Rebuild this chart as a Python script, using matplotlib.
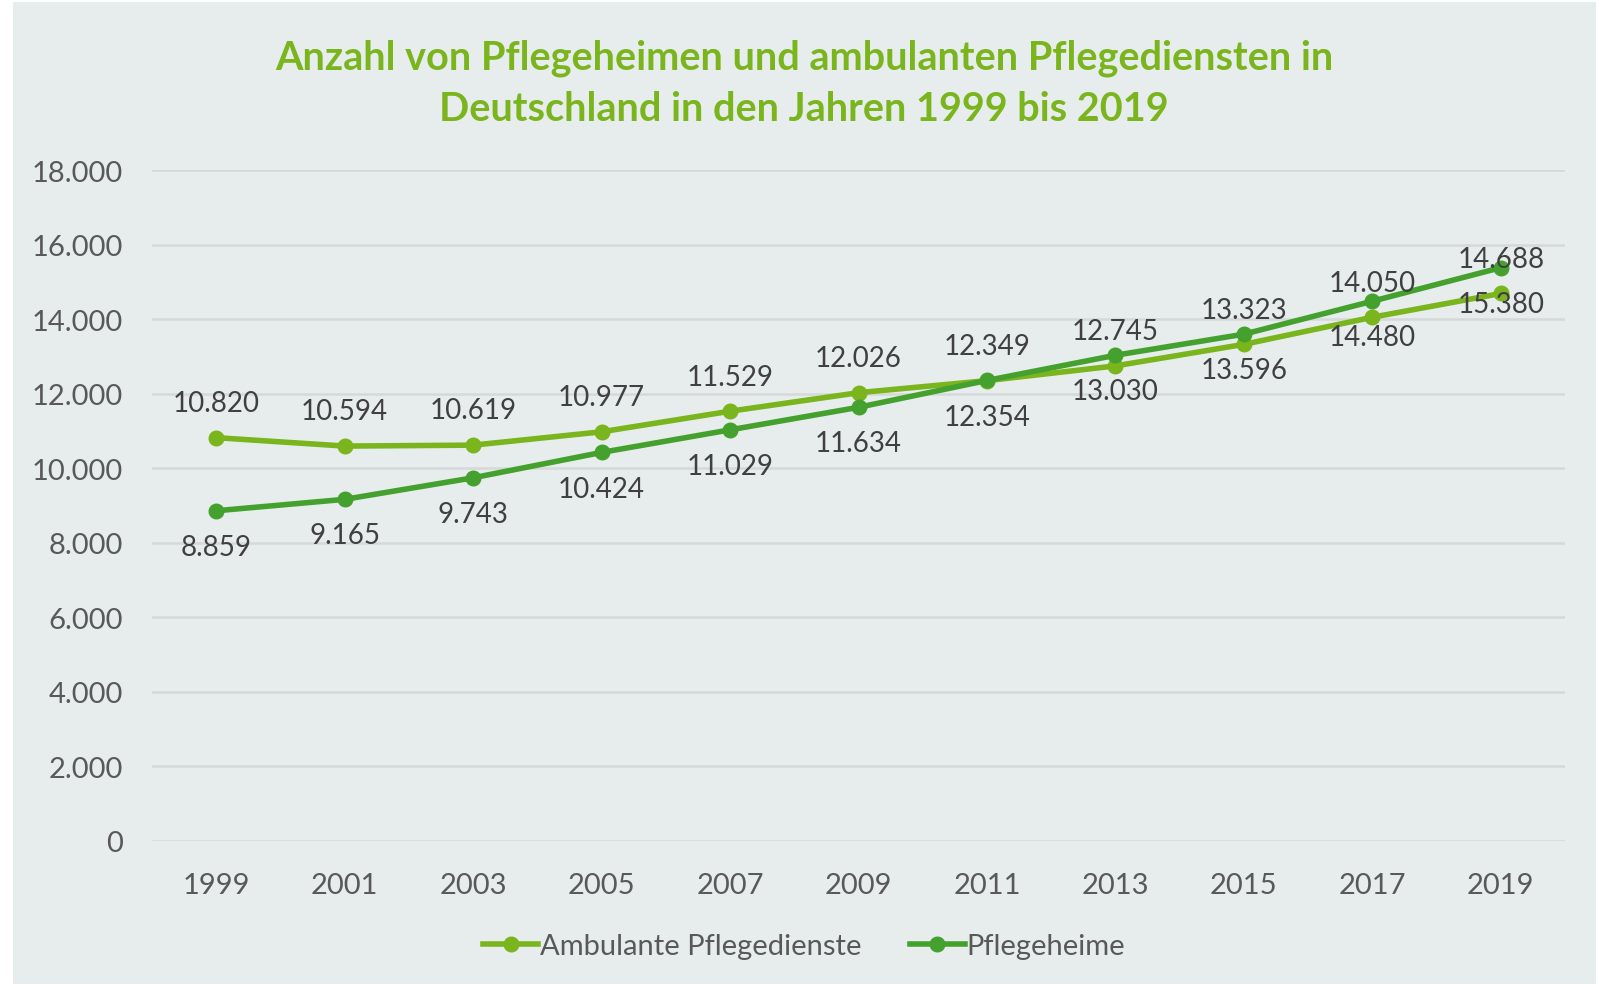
import matplotlib
matplotlib.use("Agg")
import matplotlib.pyplot as plt
from matplotlib.patches import Rectangle

# Daten
jahre = ["1999", "2001", "2003", "2005", "2007", "2009", "2011", "2013", "2015", "2017", "2019"]
ambulant = [10820, 10594, 10619, 10977, 11529, 12026, 12349, 12745, 13323, 14050, 14688]
heime = [8859, 9165, 9743, 10424, 11029, 11634, 12354, 13030, 13596, 14480, 15380]
yticks = [0, 2000, 4000, 6000, 8000, 10000, 12000, 14000, 16000, 18000]

hell = "#7AB51D"
dunkel = "#45A12E"
hintergrund = "#E7EDED"

def fmt(v):
    return "{:,}".format(v).replace(",", ".")

plt.rcParams['font.family'] = ['Lato', 'DejaVu Sans']

fig = plt.figure(figsize=(16.06, 9.87), dpi=100)
fig.patch.set_facecolor("white")
fig.patches.append(Rectangle((13/1606, 2/987), 1583/1606, 982/987, transform=fig.transFigure,
                             facecolor=hintergrund, edgecolor="none", zorder=-10))

ax = fig.add_axes([152/1606, 1 - 842/987, 1413/1606, (842-171)/987])
ax.set_facecolor(hintergrund)

x = list(range(len(jahre)))
ax.plot(x, ambulant, color=hell, lw=4, marker="o", ms=10.5, label="Ambulante Pflegedienste", zorder=3)
ax.plot(x, heime, color=dunkel, lw=4, marker="o", ms=10.5, label="Pflegeheime", zorder=4)

for i in x:
    ax.annotate(fmt(ambulant[i]), (i, ambulant[i]), xytext=(0, 25), textcoords="offset points",
                ha="center", va="center", fontsize=20, color="#404040", zorder=5)
    ax.annotate(fmt(heime[i]), (i, heime[i]), xytext=(0, -26), textcoords="offset points",
                ha="center", va="center", fontsize=20, color="#404040", zorder=5)

ax.set_xlim(-0.5, len(jahre) - 0.5)
ax.set_ylim(0, 18000)
ax.set_yticks(yticks)
ax.set_yticklabels([fmt(v) for v in yticks])
ax.set_xticks(x)
ax.set_xticklabels(jahre)
ax.tick_params(axis="both", length=0, labelsize=21, labelcolor="#595959")
ax.tick_params(axis="y", pad=21)
ax.tick_params(axis="x", pad=22)
ax.grid(axis="y", color="#D6D9D9", lw=1.8)
ax.set_axisbelow(True)
for s in ax.spines.values():
    s.set_visible(False)

fig.text(804/1606, 1 - 84/987,
         "Anzahl von Pflegeheimen und ambulanten Pflegediensten in\nDeutschland in den Jahren 1999 bis 2019",
         ha="center", va="center", fontsize=28.5, fontweight="bold", color=hell, linespacing=1.48)

leg = fig.legend(loc="center", bbox_to_anchor=(804/1606, 1 - 947/987), ncol=2, frameon=False,
                 fontsize=21, handlelength=1.9, handletextpad=0.05, columnspacing=1.65,
                 labelcolor="#595959")

fig.savefig("out.png", dpi=100, facecolor=fig.get_facecolor())
